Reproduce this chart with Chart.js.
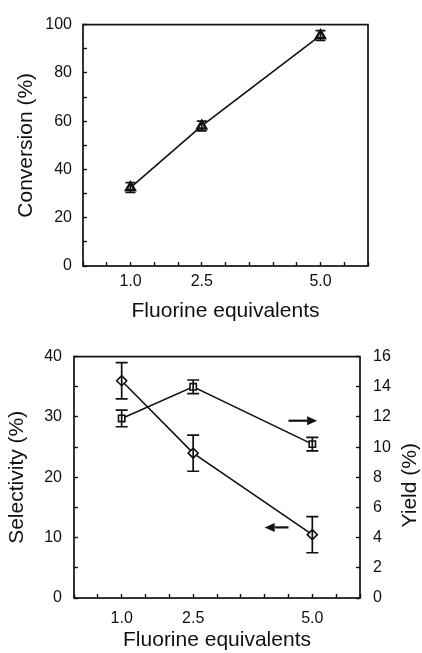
<!DOCTYPE html>
<html>
<head>
<meta charset="utf-8">
<script src="https://cdn.jsdelivr.net/npm/chart.js@4.4.1/dist/chart.umd.min.js"></script>
<style>
  html, body { margin: 0; padding: 0; background: #fff; }
  .box { position: relative; width: 422px; }
  #top { height: 330px; }
  #bottom { height: 323px; }
</style>
</head>
<body>
<div class="box" id="top"><canvas id="conv"></canvas></div>
<div class="box" id="bottom"><canvas id="sel"></canvas></div>
<script>
// fluorine equivalents used in each run
const equivalents = [1.0, 2.5, 5.0];
const labelledTicks = [1.0, 2.5, 5.0];

// conversion (%) with error
const conversion = [32.5, 58, 95.5];
const conversionErr = [2, 2, 2];

// selectivity (%) with error, left axis
const selectivity = [36, 24, 10.5];
const selectivityErr = [3, 3, 3];

// yield (%) with error, right axis
const yieldPct = [11.9, 14.0, 10.2];
const yieldErr = [0.55, 0.45, 0.45];

// arrows pointing each curve to its axis: [xFrom, xTo, y, axis]
const arrows = [
  [4.5, 5.1, 11.75, "y1"],
  [4.5, 4.0, 11.7, "y"],
];

const FONT = "'Liberation Sans', Arial, Helvetica, sans-serif";
const INK = "#111";

Chart.defaults.font.family = FONT;
Chart.defaults.color = INK;
Chart.defaults.animation = false;

const pts = (ys) => equivalents.map((x, i) => ({ x: x, y: ys[i] }));

// box around the plot area
const frame = {
  id: "frame",
  afterDraw(chart) {
    const { ctx, chartArea: a } = chart;
    ctx.save();
    ctx.strokeStyle = INK;
    ctx.lineWidth = 1.7;
    ctx.strokeRect(a.left, a.top, a.right - a.left, a.bottom - a.top);
    ctx.restore();
  },
};

// vertical error bars with caps
const errorBars = {
  id: "errorBars",
  afterDatasetsDraw(chart) {
    const { ctx } = chart;
    const xs = chart.scales.x;
    chart.data.datasets.forEach((ds) => {
      if (!ds.errors) return;
      const ys = chart.scales[ds.yAxisID || "y"];
      ctx.save();
      ctx.strokeStyle = INK;
      ctx.lineWidth = 1.7;
      ds.data.forEach((p, i) => {
        const e = ds.errors[i];
        const px = xs.getPixelForValue(p.x);
        const y1 = ys.getPixelForValue(p.y + e);
        const y2 = ys.getPixelForValue(p.y - e);
        const w = ds.capHalf || 5;
        ctx.beginPath();
        ctx.moveTo(px, y1); ctx.lineTo(px, y2);
        ctx.moveTo(px - w, y1); ctx.lineTo(px + w, y1);
        ctx.moveTo(px - w, y2); ctx.lineTo(px + w, y2);
        ctx.stroke();
      });
      ctx.restore();
    });
  },
};

function xAxis(labelPad, titlePad, height) {
  return {
    type: "linear",
    min: 0,
    max: 6,
    border: { display: false },
    grid: { drawOnChartArea: false, tickLength: -4, tickColor: INK, tickWidth: 1.4 },
    ticks: {
      stepSize: 0.5,
      padding: labelPad,
      font: { size: 16 },
      color: INK,
      autoSkip: false,
      maxRotation: 0,
      callback: (v) => (labelledTicks.includes(v) ? v.toFixed(1) : ""),
    },
    title: {
      display: true,
      text: "Fluorine equivalents",
      font: { size: 21 },
      color: INK,
      padding: { top: 0, bottom: titlePad },
    },
    afterFit: (s) => { s.height = height; },
  };
}

// top panel: conversion
new Chart(document.getElementById("conv"), {
  type: "scatter",
  data: {
    datasets: [{
      data: pts(conversion),
      errors: conversionErr,
      capHalf: 5,
      showLine: true,
      borderColor: INK,
      borderWidth: 1.6,
      pointStyle: "triangle",
      pointRadius: 5,
      pointBorderWidth: 2.5,
      pointBackgroundColor: "#fff",
      pointBorderColor: INK,
    }],
  },
  options: {
    responsive: true,
    maintainAspectRatio: false,
    layout: { padding: { top: 19, right: 54, left: 0, bottom: 0 } },
    plugins: { legend: { display: false }, tooltip: { enabled: false } },
    scales: {
      x: xAxis(10, 6, 64),
      y: {
        min: 0,
        max: 100,
        border: { display: false },
        grid: { drawOnChartArea: false, tickLength: -4, tickColor: INK, tickWidth: 1.4 },
        ticks: {
          stepSize: 10,
          padding: 15,
          font: { size: 16 },
          color: INK,
          callback: (v) => (v % 20 === 0 ? String(v) : ""),
        },
        title: {
          display: true,
          text: "Conversion (%)",
          font: { size: 21 },
          color: INK,
          padding: { top: 14, bottom: 0 },
        },
        afterFit: (s) => { s.width = 83; },
      },
    },
  },
  plugins: [frame, errorBars],
});

// right axis title reads bottom to top, like the left one
const yieldTitle = {
  id: "yieldTitle",
  afterDraw(chart) {
    const { ctx, chartArea: a } = chart;
    ctx.save();
    ctx.translate(410, (a.top + a.bottom) / 2 + 8);
    ctx.rotate(-Math.PI / 2);
    ctx.font = "21px " + FONT;
    ctx.fillStyle = INK;
    ctx.textAlign = "center";
    ctx.textBaseline = "middle";
    ctx.fillText("Yield (%)", 0, 0);
    ctx.restore();
  },
};

const arrowMarks = {
  id: "arrowMarks",
  afterDatasetsDraw(chart) {
    const { ctx } = chart;
    const xs = chart.scales.x;
    arrows.forEach(([x0, x1, yv, axis]) => {
      const ys = chart.scales[axis];
      const px0 = xs.getPixelForValue(x0);
      const px1 = xs.getPixelForValue(x1);
      const py = ys.getPixelForValue(yv);
      const dir = Math.sign(px1 - px0);
      const head = 10;
      ctx.save();
      ctx.strokeStyle = INK;
      ctx.fillStyle = INK;
      ctx.lineWidth = 2.2;
      ctx.beginPath();
      ctx.moveTo(px0, py);
      ctx.lineTo(px1 - dir * head, py);
      ctx.stroke();
      ctx.beginPath();
      ctx.moveTo(px1, py);
      ctx.lineTo(px1 - dir * head, py - 4.5);
      ctx.lineTo(px1 - dir * head, py + 4.5);
      ctx.closePath();
      ctx.fill();
      ctx.restore();
    });
  },
};

// bottom panel: selectivity and yield
new Chart(document.getElementById("sel"), {
  type: "scatter",
  data: {
    datasets: [
      {
        data: pts(selectivity),
        errors: selectivityErr,
        capHalf: 6,
        yAxisID: "y",
        showLine: true,
        borderColor: INK,
        borderWidth: 1.6,
        pointStyle: "rectRot",
        pointRadius: 5,
        pointBorderWidth: 1.6,
        pointBackgroundColor: "#fff",
        pointBorderColor: INK,
      },
      {
        data: pts(yieldPct),
        errors: yieldErr,
        capHalf: 6,
        yAxisID: "y1",
        showLine: true,
        borderColor: INK,
        borderWidth: 1.6,
        pointStyle: "rect",
        pointRadius: 4.5,
        pointBorderWidth: 1.6,
        pointBackgroundColor: "#fff",
        pointBorderColor: INK,
      },
    ],
  },
  options: {
    responsive: true,
    maintainAspectRatio: false,
    layout: { padding: { top: 23, right: 0, left: 0, bottom: 0 } },
    plugins: { legend: { display: false }, tooltip: { enabled: false } },
    scales: {
      x: xAxis(15, 0, 55),
      y: {
        position: "left",
        min: 0,
        max: 40,
        border: { display: false },
        grid: { drawOnChartArea: false, tickLength: -4, tickColor: INK, tickWidth: 1.4 },
        ticks: {
          stepSize: 5,
          padding: 16,
          font: { size: 16 },
          color: INK,
          callback: (v) => (v % 10 === 0 ? String(v) : ""),
        },
        title: {
          display: true,
          text: "Selectivity (%)",
          font: { size: 21 },
          color: INK,
          padding: { top: 5, bottom: 0 },
        },
        afterFit: (s) => { s.width = 74; },
      },
      y1: {
        position: "right",
        min: 0,
        max: 16,
        border: { display: false },
        grid: { drawOnChartArea: false, tickLength: -4, tickColor: INK, tickWidth: 1.4 },
        ticks: {
          stepSize: 2,
          padding: 17,
          font: { size: 16 },
          color: INK,
        },
        afterFit: (s) => { s.width = 62; },
      },
    },
  },
  plugins: [frame, errorBars, arrowMarks, yieldTitle],
});
</script>
</body>
</html>
